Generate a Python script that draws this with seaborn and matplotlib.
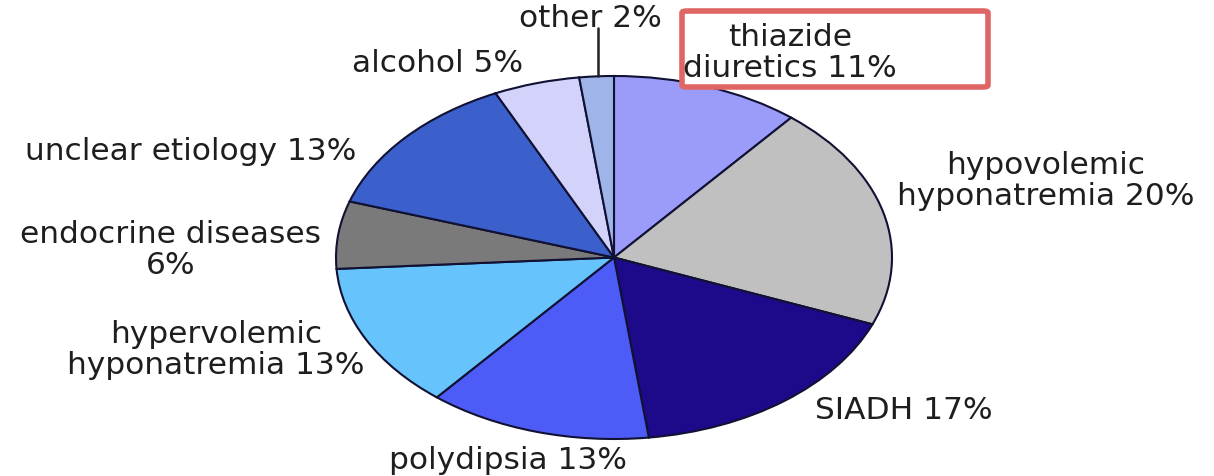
import matplotlib
matplotlib.use("Agg")
import matplotlib.pyplot as plt
import seaborn as sns
from matplotlib.patches import FancyBboxPatch

# slices, clockwise from 12 o'clock
causes = [
    "thiazide\ndiuretics",
    "hypovolemic\nhyponatremia",
    "SIADH",
    "polydipsia",
    "hypervolemic\nhyponatremia",
    "endocrine diseases\n",
    "unclear etiology",
    "alcohol",
    "other",
]
shares = [11, 20, 17, 13, 13, 6, 13, 5, 2]
colors = ["#9b9bfa", "#c0c0c0", "#1d0a8a", "#4d5cf7", "#66c3fc",
          "#7a7a7a", "#3b60cc", "#d2d2fb", "#9fb4e8"]

# label anchor points in pie units (radius 1)
label_pos = [
    (0.633, 1.132), (1.554, 0.427), (1.043, -0.835), (-0.381, -1.115),
    (-1.432, -0.504), (-1.594, 0.047), (-1.522, 0.587), (-0.633, 1.077),
    (-0.086, 1.325),
]

sns.set_theme(style="white")
plt.rcParams["font.family"] = ["DejaVu Sans"]

fig = plt.figure(figsize=(12.14, 4.77), dpi=100)
ax = fig.add_axes([336 / 1214, 37 / 477, 556 / 1214, 363 / 477])

ax.pie(
    shares,
    colors=colors,
    startangle=90,
    counterclock=False,
    wedgeprops=dict(edgecolor="#111133", linewidth=1.5),
)
ax.set_aspect("auto")
ax.set_xlim(-1, 1)
ax.set_ylim(-1, 1)
ax.axis("off")

# leader line for the small "other" slice
ax.plot([-0.058, -0.058], [1.0, 1.265], color="#222222", lw=1.8, clip_on=False)

# highlight box round the thiazide label (above the pie, below the text)
box = FancyBboxPatch(
    (682 / 1214, 389 / 477), 306 / 1214, 76 / 477,
    boxstyle="round,pad=0,rounding_size=0.004",
    transform=fig.transFigure, facecolor="white",
    edgecolor="#e06666", linewidth=4, zorder=3, clip_on=False,
)
ax.add_patch(box)

for name, val, (x, y) in zip(causes, shares, label_pos):
    if name.endswith("\n"):
        txt = f"{name}{val}%"
    else:
        txt = f"{name} {val}%"
    ax.text(x, y, txt, ha="center", va="center", fontsize=22.5,
            color="#1e1e1e", linespacing=1.07, clip_on=False, zorder=5)

fig.savefig("out.png", dpi=100)
